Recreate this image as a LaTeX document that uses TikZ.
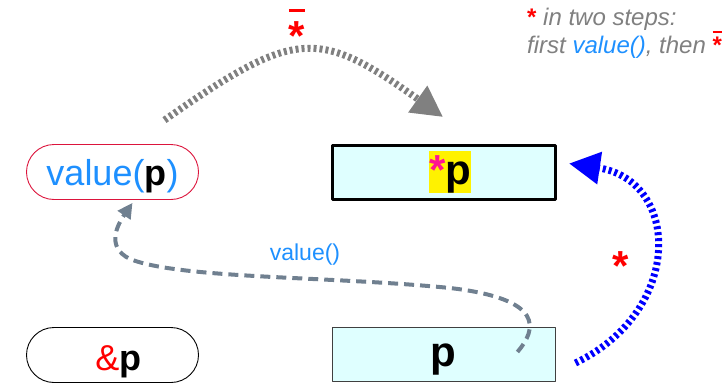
\documentclass[tikz,border=0pt]{standalone}
\usepackage{fontspec}
\setmainfont{Liberation Sans}
\usepackage{xcolor}
\usetikzlibrary{positioning,calc,arrows.meta}

\definecolor{lightcyan}{HTML}{DFFFFF}
\definecolor{dodgerblue}{HTML}{1E90FF}
\definecolor{slategray}{HTML}{708090}
\definecolor{crimson}{HTML}{DC143C}
\definecolor{deeppink}{HTML}{FF1493}
\definecolor{notegray}{HTML}{808080}

\newcommand{\fsBig}{\fontsize{36}{40}\selectfont}
\newcommand{\fsCell}{\fontsize{42}{46}\selectfont}
\newcommand{\fsStar}{\fontsize{42}{46}\selectfont}
\newcommand{\fsMid}{\fontsize{23}{27}\selectfont}
\newcommand{\fsNote}{\fontsize{24}{28}\selectfont}
% asterisk with a bar above it; #1 = height of the bar
\newcommand{\barstar}[1]{\makebox[0pt][l]{\raisebox{#1}{\rule{0.39em}{0.07em}}}*}

\begin{document}
\begin{tikzpicture}[
				x=1pt,y=1pt,
				line join=round,
				pill/.style={draw, line width=0.9pt, rounded corners=27.5pt,
					minimum width=172pt, minimum height=55pt, inner sep=0pt},
				cell/.style={fill=lightcyan, minimum width=223pt, minimum height=54pt,
					inner sep=0pt, text height=30pt, text depth=6pt},
				hop/.style={line width=7pt, dash pattern=on 3pt off 3pt}
				]
				% ---- canvas
				\useasboundingbox (0,0) rectangle (728,384);
				
				% pills on the left
				\node[pill, draw=crimson, font=\fsBig, text height=30pt, text depth=4pt] (valp) at (112.5,212)
				{\textcolor{dodgerblue}{value(}\textbf{p}\textcolor{dodgerblue}{)}};
				\node[pill, draw=black, font=\fsBig, text height=33pt, text depth=2pt] (addr) at (112.5,29)
				{\hspace{12pt}\textcolor{red}{\&}\textbf{p}};
				
				% cells on the right
				\node[cell, draw=black, line width=3pt] (deref) at (444,211.5) {};
				\node[fill=yellow, inner sep=0pt, text height=33.6pt, text depth=8.4pt,
					font=\fsCell\bfseries] (derefTxt) at (450,212) {\textcolor{deeppink}{*}p};
				\node[cell, draw=darkgray, line width=0.9pt, font=\fsCell\bfseries] (ptr) at (443.5,30) {p};
				
				% one step
				\draw[hop, draw=gray, -{Triangle[length=31pt,width=31pt]}]
				([shift={(52,24)}]valp.north) .. controls (296,356) and (318,356) .. ([shift={(-1,27)}]deref.north);
				\node[anchor=base, font=\fsStar\bfseries, text=red, inner sep=0pt] (oneStep) at (297,334) {\barstar{0.9em}};
				
				% two steps
				\draw[hop, draw=blue, -{Triangle[length=31pt,width=31pt]}]
				([shift={(20,-9)}]ptr.east) .. controls (685,74) and (680,204) .. ([shift={(12,9)}]deref.east);
				\node[anchor=base, font=\fsStar\bfseries, text=red, inner sep=0pt] (twoStep) at (621,104) {*};
				
				% value() back to the left
				\draw[line width=4pt, slategray, dash pattern=on 10pt off 6pt,
				-{Triangle[length=15pt,width=15pt]}]
				([shift={(-38,2)}]ptr.east) .. controls (537,55) and (545,85) .. (450,96)
				.. controls (330,108) and (180,105) .. (130,125)
				.. controls (105,137) and (118,160) .. ([shift={(20,-3)}]valp.south);
				\node[font=\fsMid, text=dodgerblue] (viaLbl) at (305,129) {value()};
				
				% note
				\node[anchor=base west, font=\fsNote\itshape, text=notegray, inner sep=0pt] (note1) at (527,359)
				{\textcolor{red}{\upshape\bfseries *} in two steps:};
				\node[anchor=base west, font=\fsNote\itshape, text=notegray, inner sep=0pt] (note2) at (527,331)
				{first \textcolor{dodgerblue}{value()}, then \textcolor{red}{\upshape\bfseries\barstar{0.85em}}};
			\end{tikzpicture}
\end{document}
